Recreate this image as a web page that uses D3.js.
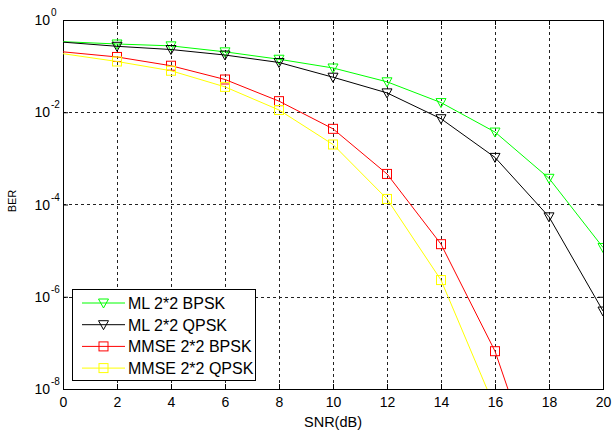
<!DOCTYPE html>
<html lang="en">
<head>
<meta charset="UTF-8" />
<title>BER vs SNR</title>
<script src="https://d3js.org/d3.v7.min.js"></script>
<style>
    body { margin: 0; background: #fff; }
    text { font-family: "Liberation Sans", Arial, sans-serif; fill: #000; }
</style>
</head>
<body>
<div id="chart"></div>
<script>
    var w = 614;
    var h = 433;
    var margin = { left: 63, right: 11, top: 20, bottom: 44 };

    var snr = [0, 2, 4, 6, 8, 10, 12, 14, 16, 18, 20];
    var mlBpsk = [0.339, 0.302, 0.275, 0.204, 0.141, 0.0912, 0.0457, 0.0162, 0.00372, 3.7e-4, 1.17e-5];
    var mlQpsk = [0.331, 0.269, 0.229, 0.174, 0.120, 0.0575, 0.0263, 0.00724, 0.00105, 5.4e-5, 4.9e-7];
    var mmseBpsk = [0.204, 0.158, 0.102, 0.0513, 0.0174, 0.00437, 4.6e-4, 1.38e-5, 6.6e-8, 2.5e-11];
    var mmseQpsk = [0.186, 0.126, 0.0794, 0.0355, 0.0112, 0.0020, 1.32e-4, 2.3e-6, 3.9e-9];
    var seriesNames = ["ML 2*2 BPSK", "ML 2*2 QPSK", "MMSE 2*2 BPSK", "MMSE 2*2 QPSK"];
    var seriesColors = ["#00ff00", "#000000", "#ff0000", "#ffff00"];
    var seriesMarkers = ["tri", "tri", "square", "square"];
    var xTicks = [0, 2, 4, 6, 8, 10, 12, 14, 16, 18, 20];
    var yTickExp = [0, -2, -4, -6, -8];

    var allSeries = [mlBpsk, mlQpsk, mmseBpsk, mmseQpsk];

    var svg = d3.select("#chart").append("svg")
        .attr("width", w)
        .attr("height", h);

    var xScale = d3.scaleLinear()
        .domain([0, 20])
        .range([margin.left, w - margin.right]);

    var yScale = d3.scaleLog()
        .domain([1e-8, 1])
        .range([h - margin.bottom, margin.top]);

    var x0 = margin.left, x1 = w - margin.right;
    var y0 = margin.top, y1 = h - margin.bottom;

    // grid
    var grid = svg.append("g")
        .attr("stroke", "#222")
        .attr("stroke-width", 1)
        .attr("stroke-dasharray", "3,3");
    xTicks.slice(1, -1).forEach(function (t) {
        grid.append("line")
            .attr("x1", Math.round(xScale(t)) + 0.5).attr("x2", Math.round(xScale(t)) + 0.5)
            .attr("y1", y0).attr("y2", y1);
    });
    yTickExp.slice(1, -1).forEach(function (e) {
        grid.append("line")
            .attr("x1", x0).attr("x2", x1)
            .attr("y1", Math.round(yScale(Math.pow(10, e))) + 0.5)
            .attr("y2", Math.round(yScale(Math.pow(10, e))) + 0.5);
    });

    // axes with inside ticks
    var xAxis = d3.axisBottom(xScale).tickValues(xTicks).tickSizeInner(-5).tickSizeOuter(0).tickPadding(8);
    var gx = svg.append("g")
        .attr("transform", "translate(0," + y1 + ")")
        .call(xAxis);
    gx.select(".domain").remove();
    gx.selectAll("text").style("font-size", "14px").style("font-family", "Liberation Sans, Arial, sans-serif");

    var xTop = d3.axisTop(xScale).tickValues(xTicks).tickSizeInner(-5).tickSizeOuter(0).tickFormat("");
    svg.append("g").attr("transform", "translate(0," + y0 + ")").call(xTop).select(".domain").remove();

    var yVals = yTickExp.map(function (e) { return Math.pow(10, e); });
    var yAxis = d3.axisLeft(yScale).tickValues(yVals).tickSizeInner(-5).tickSizeOuter(0).tickFormat("");
    var gy = svg.append("g").attr("transform", "translate(" + x0 + ",0)").call(yAxis);
    gy.select(".domain").remove();
    var yRight = d3.axisRight(yScale).tickValues(yVals).tickSizeInner(-5).tickSizeOuter(0).tickFormat("");
    svg.append("g").attr("transform", "translate(" + x1 + ",0)").call(yRight).select(".domain").remove();

    // y tick labels 10^n
    yTickExp.forEach(function (e) {
        var yy = yScale(Math.pow(10, e));
        svg.append("text")
            .attr("x", 50)
            .attr("y", yy + 5)
            .attr("text-anchor", "end")
            .style("font-size", "14px")
            .text("10");
        svg.append("text")
            .attr("x", 51)
            .attr("y", yy - 4)
            .style("font-size", "10px")
            .text(e);
    });

    // box
    svg.append("rect")
        .attr("x", x0 + 0.5).attr("y", y0 + 0.5)
        .attr("width", x1 - x0).attr("height", y1 - y0)
        .attr("fill", "none").attr("stroke", "#000");

    // axis titles
    svg.append("text")
        .attr("x", (x0 + x1) / 2)
        .attr("y", 427)
        .attr("text-anchor", "middle")
        .style("font-size", "14.5px")
        .text("SNR(dB)");
    svg.append("text")
        .attr("transform", "translate(16," + 201 + ") rotate(-90)")
        .attr("text-anchor", "middle")
        .style("font-size", "11px")
        .text("BER");

    // series
    svg.append("clipPath").attr("id", "plotclip")
        .append("rect").attr("x", x0).attr("y", y0).attr("width", x1 - x0).attr("height", y1 - y0);

    var line = d3.line()
        .x(function (d) { return xScale(d.x); })
        .y(function (d) { return yScale(d.y); });

    var triPath = "M-5,-4L5,-4L0,5Z";

    function drawMarker(g, type, color, cx, cy) {
        if (type === "tri") {
            g.append("path")
                .attr("d", triPath)
                .attr("transform", "translate(" + cx + "," + cy + ")")
                .attr("fill", "none").attr("stroke", color).attr("stroke-width", 1);
        } else {
            g.append("rect")
                .attr("x", cx - 4.5).attr("y", cy - 4.5)
                .attr("width", 9).attr("height", 9)
                .attr("fill", "none").attr("stroke", color).attr("stroke-width", 1);
        }
    }

    var plot = svg.append("g").attr("clip-path", "url(#plotclip)");
    allSeries.forEach(function (vals, i) {
        var pts = vals.map(function (v, j) { return { x: snr[j], y: v }; });
        plot.append("path")
            .datum(pts)
            .attr("d", line)
            .attr("fill", "none")
            .attr("stroke", seriesColors[i])
            .attr("stroke-width", 1);
        // markers from SNR 2 onward (none shown at 0 in the original)
        pts.forEach(function (p) {
            if (p.x > 0 && p.y >= 1e-8) {
                drawMarker(plot, seriesMarkers[i], seriesColors[i], xScale(p.x), yScale(p.y));
            }
        });
    });

    // legend
    var legend = svg.append("g");
    legend.append("rect")
        .attr("x", 72.5).attr("y", 289.5)
        .attr("width", 183).attr("height", 91)
        .attr("fill", "#fff").attr("stroke", "#000");
    seriesNames.forEach(function (name, i) {
        var ly = 303 + i * 21.7;
        legend.append("line")
            .attr("x1", 82).attr("x2", 125)
            .attr("y1", ly).attr("y2", ly)
            .attr("stroke", seriesColors[i]);
        drawMarker(legend, seriesMarkers[i], seriesColors[i], 103.5, ly);
        legend.append("text")
            .attr("x", 128)
            .attr("y", ly + 6)
            .style("font-size", "16px")
            .text(name);
    });
</script>
</body>
</html>
